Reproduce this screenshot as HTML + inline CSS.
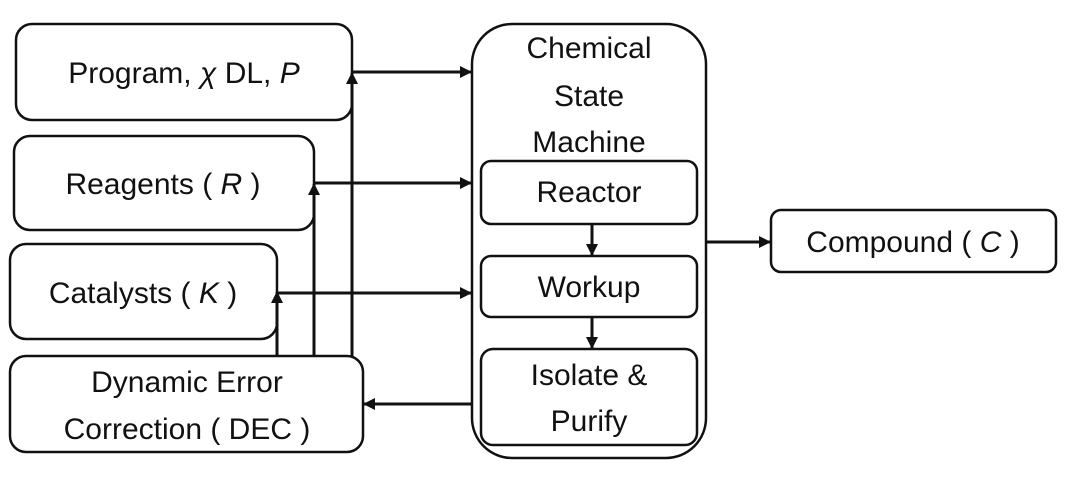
<!DOCTYPE html>
<html><head><style>
body{margin:0;background:#fff;}
svg text{font-family:"Liberation Sans",sans-serif;font-size:30px;fill:#111;}
</style></head><body>
<svg width="1080" height="472" viewBox="0 0 1080 472" xmlns="http://www.w3.org/2000/svg">
<defs><marker id="a" markerWidth="12" markerHeight="12" refX="11" refY="6" orient="auto" markerUnits="userSpaceOnUse"><path d="M0,0 L12,6 L0,12 z" fill="#111"/></marker></defs>
<g fill="none" stroke="#111" stroke-width="2.5">
<rect x="16" y="24" width="336" height="96" rx="16"/>
<rect x="14" y="136" width="300" height="94" rx="16"/>
<rect x="10" y="244" width="267" height="95" rx="16"/>
<rect x="10" y="356" width="353" height="96" rx="16"/>
<rect x="472" y="24" width="234" height="434" rx="40"/>
<rect x="481" y="161" width="216" height="63" rx="10"/>
<rect x="481" y="256" width="216" height="61" rx="10"/>
<rect x="481" y="349" width="216" height="96" rx="12"/>
<rect x="771" y="210" width="285" height="62" rx="10"/>
</g>
<g stroke="#111" stroke-width="3" fill="none">
<line x1="277" y1="356" x2="277" y2="292" marker-end="url(#a)"/>
<line x1="314" y1="356" x2="314" y2="184" marker-end="url(#a)"/>
<line x1="352" y1="356" x2="352" y2="73" marker-end="url(#a)"/>
<line x1="352" y1="72" x2="471" y2="72" marker-end="url(#a)"/>
<line x1="314" y1="183" x2="471" y2="183" marker-end="url(#a)"/>
<line x1="277" y1="293" x2="471" y2="293" marker-end="url(#a)"/>
<line x1="472" y1="404" x2="364" y2="404" marker-end="url(#a)"/>
<line x1="706" y1="242" x2="770" y2="242" marker-end="url(#a)"/>
<line x1="592" y1="224" x2="592" y2="255" marker-end="url(#a)"/>
<line x1="592" y1="317" x2="592" y2="348" marker-end="url(#a)"/>
</g>
<text x="184" y="83" text-anchor="middle">Program,  <tspan font-style="italic">χ</tspan> DL, <tspan font-style="italic">P</tspan></text>
<text x="163" y="194" text-anchor="middle">Reagents ( <tspan font-style="italic">R</tspan> )</text>
<text x="143" y="303" text-anchor="middle">Catalysts ( <tspan font-style="italic">K</tspan> )</text>
<text x="187" y="392" text-anchor="middle">Dynamic Error</text>
<text x="187" y="439" text-anchor="middle">Correction ( DEC )</text>
<text x="589" y="58" text-anchor="middle">Chemical</text>
<text x="589" y="106" text-anchor="middle">State</text>
<text x="589" y="152" text-anchor="middle">Machine</text>
<text x="589" y="202" text-anchor="middle">Reactor</text>
<text x="589" y="297" text-anchor="middle">Workup</text>
<text x="589" y="385" text-anchor="middle">Isolate &amp;</text>
<text x="589" y="431" text-anchor="middle">Purify</text>
<text x="913" y="252" text-anchor="middle">Compound ( <tspan font-style="italic">C</tspan> )</text>
</svg>
</body></html>
